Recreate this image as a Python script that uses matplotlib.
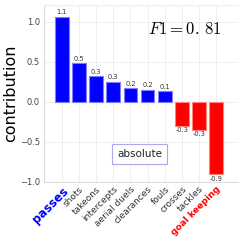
import matplotlib
matplotlib.use("Agg")
import matplotlib.pyplot as plt

plt.rcParams["mathtext.fontset"] = "cm"

categories = ["passes", "shots", "takeons", "intercepts", "aerial duels",
              "clearances", "fouls", "crosses", "tackles", "goal keeping"]
values = [1.06, 0.48, 0.32, 0.25, 0.17, 0.15, 0.13, -0.30, -0.35, -0.90]
labels = ["1.1", "0.5", "0.3", "0.3", "0.2", "0.2", "0.1", "-0.3", "-0.3", "-0.9"]
yticks = [-1.0, -0.5, 0.0, 0.5, 1.0]
f1_score = "0.81"

fig = plt.figure(figsize=(2.4, 2.4), dpi=100)
ax = fig.add_axes([0.183, 0.242, 0.807, 0.737])

x = list(range(len(categories)))
colors = ["blue" if v >= 0 else "red" for v in values]
edges = ["#7f7fff" if v >= 0 else "#ff8080" for v in values]
ax.bar(x, values, width=0.8, color=colors, edgecolor=edges, linewidth=0.8, zorder=2)

for xi, v, lab in zip(x, values, labels):
    if v >= 0:
        ax.text(xi, v + 0.02, lab, ha="center", va="bottom", fontsize=4.8, color="#333333")
    else:
        ax.text(xi, v - 0.02, lab, ha="center", va="top", fontsize=4.8, color="#333333")

ax.set_xlim(-1.05, 10.25)
ax.set_ylim(-1.0, 1.21)
ax.set_yticks(yticks)
ax.set_yticklabels(["\u22121.0", "\u22120.5", "0.0", "0.5", "1.0"], fontsize=6, color="#444444")
ax.set_xticks(x)
ax.set_xticklabels(categories, rotation=45, ha="right", rotation_mode="anchor", fontsize=6.5, color="#333333")
tl = ax.get_xticklabels()
tl[0].set_color("blue"); tl[0].set_fontweight("bold"); tl[0].set_fontsize(8.5)
tl[-1].set_color("red"); tl[-1].set_fontweight("bold")

ax.tick_params(axis="both", length=0, pad=2)
ax.tick_params(axis="y", pad=3)
ax.grid(True, color="#ececec", linewidth=0.6, zorder=0)
ax.set_axisbelow(True)
ax.spines["right"].set_visible(False)
for s in ["left", "bottom", "top"]:
    ax.spines[s].set_color("#dddddd")
    ax.spines[s].set_linewidth(0.8)
ax.spines["top"].set_color("#f0f0f0")

ax.set_ylabel("contribution", fontsize=11.5, labelpad=1)

ax.text(185, 240 - 29, r"$F1 = 0.\,81$", transform=None,
        ha="center", va="center", fontsize=12)
ax.text(139.5, 240 - 154, "absolute", transform=None, ha="center", va="center",
        fontsize=7.5, color="#222222",
        bbox=dict(boxstyle="square,pad=0.45", facecolor="white", edgecolor="#aaaaee", linewidth=0.8))

fig.savefig("out.png", dpi=100)
